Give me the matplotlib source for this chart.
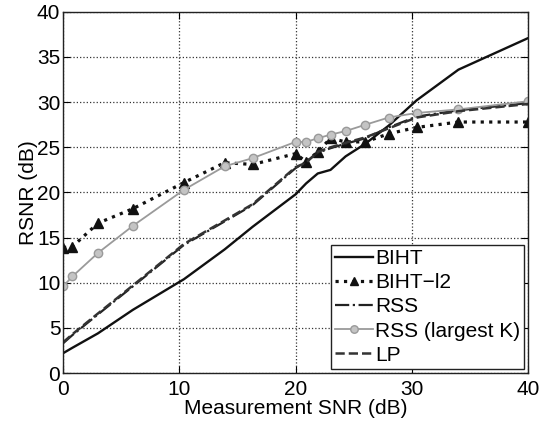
import matplotlib
matplotlib.use("Agg")
import matplotlib.pyplot as plt

plt.rcParams['font.family'] = ['Liberation Sans', 'DejaVu Sans']

# measurement SNR (dB) of each point
snr = [0, 0.8, 3, 6, 10.4, 13.9, 16.3, 20, 20.9, 21.9, 23, 24.3, 26, 28, 30.4, 34, 40]

biht = [2.2, 2.8, 4.4, 7.0, 10.4, 13.7, 16.2, 19.8, 21.0, 22.1, 22.5, 24.0, 25.4, 27.4, 30.2, 33.6, 37.1]
biht_l2 = [13.9, 14.0, 16.6, 18.2, 21.1, 23.3, 23.1, 24.3, 23.4, 24.5, 26.0, 25.6, 25.6, 26.5, 27.2, 27.8, 27.8]
rss = [3.3, 4.2, 6.5, 9.6, 14.2, 16.8, 18.6, 22.7, 23.4, 24.4, 24.9, 25.4, 26.0, 27.2, 28.4, 29.1, 29.9]
rss_k = [9.6, 10.7, 13.3, 16.3, 20.3, 22.9, 23.8, 25.6, 25.6, 26.0, 26.4, 26.8, 27.5, 28.3, 28.8, 29.2, 30.1]
lp = [3.4, 4.3, 6.6, 9.7, 14.3, 16.9, 18.7, 22.8, 23.3, 24.5, 25.0, 25.5, 26.1, 27.1, 28.3, 29.0, 29.8]

fig = plt.figure(figsize=(5.39, 4.23), dpi=100)
ax = fig.add_axes([0.117, 0.118, 0.863, 0.854])

ax.plot(snr, biht, '-', color='#111111', lw=1.7, label='BIHT')
ax.plot(snr, biht_l2, ':', color='#111111', lw=2.3, marker='^', ms=7,
        mfc='#111111', mec='#111111', label='BIHT\u2212l2')
ax.plot(snr, rss, '-.', color='#222222', lw=1.6, label='RSS')
ax.plot(snr, rss_k, '-', color='#9a9a9a', lw=1.3, marker='o', ms=6,
        mfc='#c4c4c4', mec='#9a9a9a', label='RSS (largest K)')
ax.plot(snr, lp, '--', color='#333333', lw=1.8, label='LP')

ax.set_xlim(0, 40)
ax.set_ylim(0, 40)
ax.set_xticks([0, 10, 20, 30, 40])
ax.set_yticks(range(0, 41, 5))
ax.grid(True, linestyle=':', color='#333333', lw=0.9)
ax.tick_params(direction='in', top=True, right=True, length=5, labelsize=15)
ax.tick_params(axis='x', pad=5)
ax.tick_params(axis='y', pad=2)
for s in ax.spines.values():
    s.set_linewidth(1.0)
    s.set_color('#222222')

ax.set_xlabel('Measurement SNR (dB)', fontsize=15, labelpad=0)
ax.set_ylabel('RSNR (dB)', fontsize=15, labelpad=-1)

leg = ax.legend(loc='lower right', fontsize=15, handlelength=1.8, handletextpad=0.1,
                borderpad=0.2, labelspacing=0.25, borderaxespad=0.2,
                fancybox=False, framealpha=1, markerscale=0.9)
leg.get_frame().set_edgecolor('#222222')
leg.get_frame().set_linewidth(1.0)

fig.savefig('out.png', dpi=100)
